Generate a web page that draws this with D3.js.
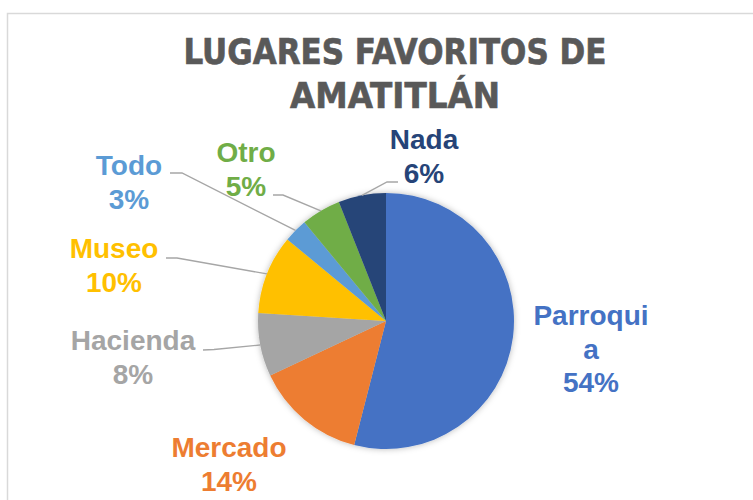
<!DOCTYPE html>
<html>
<head>
<meta charset="utf-8">
<script src="https://cdn.jsdelivr.net/npm/d3@7/dist/d3.min.js"></script>
<style>
  html, body { margin: 0; padding: 0; background: #fff; }
  svg { display: block; }
</style>
</head>
<body>
<script>
// ---- Data ----
const titleLines = ["LUGARES FAVORITOS DE", "AMATITLÁN"];
const categories = ["Parroquia", "Mercado", "Hacienda", "Museo", "Todo", "Otro", "Nada"];
const values = [54, 14, 8, 10, 3, 5, 6];
const colors = ["#4472C4", "#ED7D31", "#A5A5A5", "#FFC000", "#5B9BD5", "#70AD47", "#264478"];
const nameLines = {Parroquia: ["Parroqui", "a"]};

// ---- Layout (label placement) ----
const labelLayout = {
  Parroquia: {x: 591, y: 325},
  Mercado:   {x: 229, y: 457},
  Hacienda:  {x: 133, y: 350, start: [203, 350], elbow: [214, 349.5]},
  Museo:     {x: 114, y: 258, start: [166, 258], elbow: [177, 258]},
  Todo:      {x: 129, y: 175, start: [170, 173], elbow: [182, 173]},
  Otro:      {x: 246, y: 162, start: [273, 195], elbow: [283, 195]},
  Nada:      {x: 424, y: 149, start: [398, 182], elbow: [387, 182]}
};

const W = 753, H = 500;
const cx = 386, cy = 321, R = 128;
const lineH = 33.5;

const svg = d3.select("body").append("svg").attr("width", W).attr("height", H);

const defs = svg.append("defs");
const f = defs.append("filter").attr("id", "shadow")
  .attr("x", "-20%").attr("y", "-20%").attr("width", "140%").attr("height", "140%");
f.append("feDropShadow").attr("dx", 0).attr("dy", 0).attr("stdDeviation", 3)
  .attr("flood-color", "#000").attr("flood-opacity", 0.28);

// chart border
svg.append("rect").attr("x", 7.5).attr("y", 13.5).attr("width", 900).attr("height", 700)
  .attr("fill", "#fff").attr("stroke", "#D9D9D9").attr("stroke-width", 1.5);

// title
const title = svg.append("g").attr("fill", "#595959").attr("stroke", "#595959").attr("stroke-width", 0.6)
  .attr("font-family", "'DejaVu Sans Condensed', 'Liberation Sans Narrow', 'Liberation Sans', Arial, sans-serif")
  .attr("font-weight", "bold").attr("font-size", 35).attr("text-anchor", "middle");
const titleWidths = [423, 210];
titleLines.forEach((t, i) => {
  title.append("text").attr("x", 395).attr("y", 63.5 + i * 44)
    .attr("textLength", titleWidths[i]).attr("lengthAdjust", "spacingAndGlyphs")
    .text(t);
});

// pie
const data = categories.map((c, i) => ({name: c, value: values[i], color: colors[i]}));
const pie = d3.pie().sort(null).value(d => d.value);
const arcs = pie(data);
const arc = d3.arc().innerRadius(0).outerRadius(R);

const g = svg.append("g").attr("transform", `translate(${cx},${cy})`);
g.append("g").attr("filter", "url(#shadow)")
  .selectAll("path").data(arcs).join("path")
  .attr("d", arc).attr("fill", d => d.data.color);

// leader lines
const edgePoint = d => {
  const a = (d.startAngle + d.endAngle) / 2;
  return [cx + R * Math.sin(a), cy - R * Math.cos(a)];
};
svg.append("g").selectAll("path")
  .data(arcs.filter(d => labelLayout[d.data.name].start))
  .join("path")
  .attr("d", d => {
    const L = labelLayout[d.data.name];
    const e = edgePoint(d);
    return d3.line()([L.start, L.elbow, e]);
  })
  .attr("fill", "none").attr("stroke", "#A6A6A6").attr("stroke-width", 1.4);

// labels
const lab = svg.append("g")
  .attr("font-family", "'Liberation Sans', Arial, Helvetica, sans-serif")
  .attr("font-weight", "bold").attr("font-size", 28).attr("text-anchor", "middle");
arcs.forEach(d => {
  const L = labelLayout[d.data.name];
  const lines = (nameLines[d.data.name] || [d.data.name]).concat([d.data.value + "%"]);
  const t = lab.append("text").attr("fill", d.data.color);
  lines.forEach((s, i) => {
    t.append("tspan").attr("x", L.x).attr("y", L.y + i * lineH).text(s);
  });
});
</script>
</body>
</html>
